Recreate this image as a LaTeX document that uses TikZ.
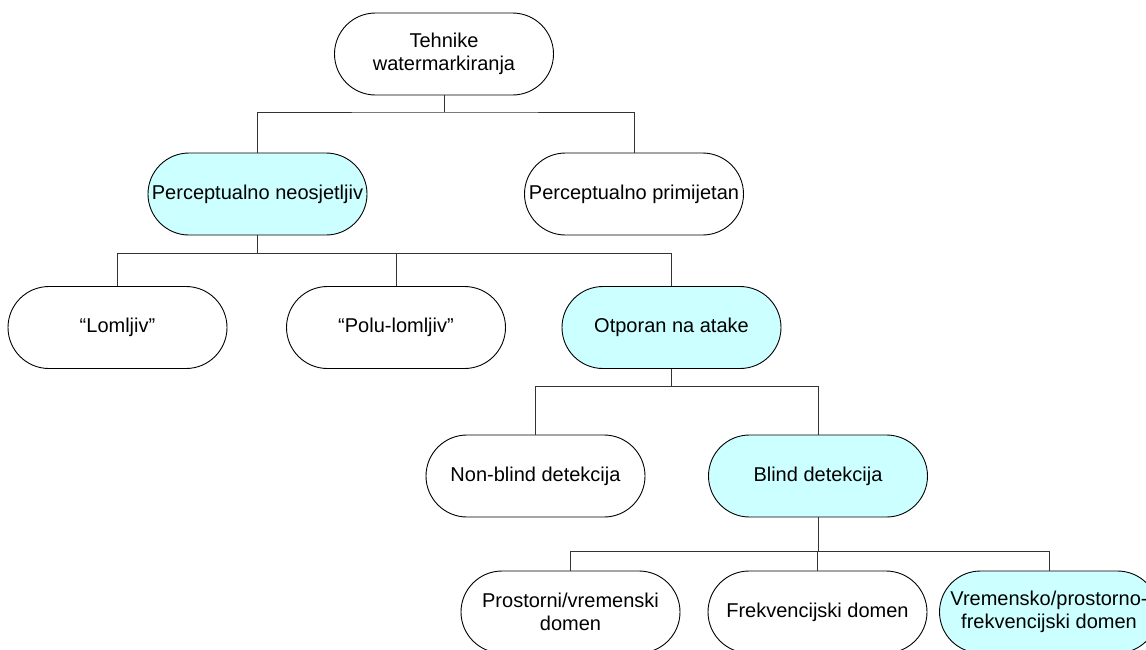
\documentclass[tikz,border=0pt]{standalone}
\usepackage{fontspec}
\setmainfont{Liberation Sans}
\definecolor{paleCyan}{HTML}{CCFFFF}
\definecolor{linkGray}{HTML}{333333}
\begin{document}
\begin{tikzpicture}[x=1pt,y=-1pt,
  pill/.style={draw=black, line width=0.9pt, fill=white, rectangle,
    rounded corners=41pt, minimum width=219pt, minimum height=82pt,
    inner sep=2pt, align=center, font=\fontsize{20}{23}\selectfont},
  hot/.style={pill, fill=paleCyan},
  link/.style={draw=linkGray, line width=0.9pt}]
\path[use as bounding box, clip] (0,0) rectangle (1146,649);
\fill[white] (0,0) rectangle (1146,649);

% nodes
\node[pill] (top)   at (444,54)    {Tehnike\\watermarkiranja};
\node[hot]  (pn)    at (257.5,194) {Perceptualno neosjetljiv};
\node[pill] (pp)    at (634,194)   {Perceptualno primijetan};
\node[pill] (lom)   at (117.5,327.5) {“Lomljiv”};
\node[pill] (polu)  at (396,327.5) {“Polu-lomljiv”};
\node[hot]  (otp)   at (671.5,327.5) {Otporan na atake};
\node[pill] (nonb)  at (535.5,476) {Non-blind detekcija};
\node[hot]  (blind) at (818,476)   {Blind detekcija};
\node[pill] (pros)  at (570.5,612) {Prostorni/vremenski\\domen};
\node[pill] (frek)  at (817.5,612) {Frekvencijski domen};
\node[hot]  (vrem)  at (1049,612)  {Vremensko/prostorno-\\frekvencijski domen};

% bus levels
\coordinate (b1) at (0,112);
\coordinate (b2) at (0,253);
\coordinate (b3) at (0,386);
\coordinate (b4) at (0,551);

% connectors
\draw[link] (top.south) -- (top.south |- b1);
\draw[link] (pn.north) |- (top.south |- b1) -| (pp.north);

\draw[link] (pn.south) -- (pn.south |- b2);
\draw[link] (lom.north) |- (otp.north |- b2) -- (otp.north);
\draw[link] (polu.north) -- (polu.north |- b2);

\draw[link] (otp.south) -- (otp.south |- b3);
\draw[link] (nonb.north) |- (blind.north |- b3) -- (blind.north);

\draw[link] (blind.south) -- (blind.south |- b4);
\draw[link] (pros.north) |- (vrem.north |- b4) -- (vrem.north);
\draw[link] (frek.north) -- (frek.north |- b4);
\end{tikzpicture}
\end{document}
